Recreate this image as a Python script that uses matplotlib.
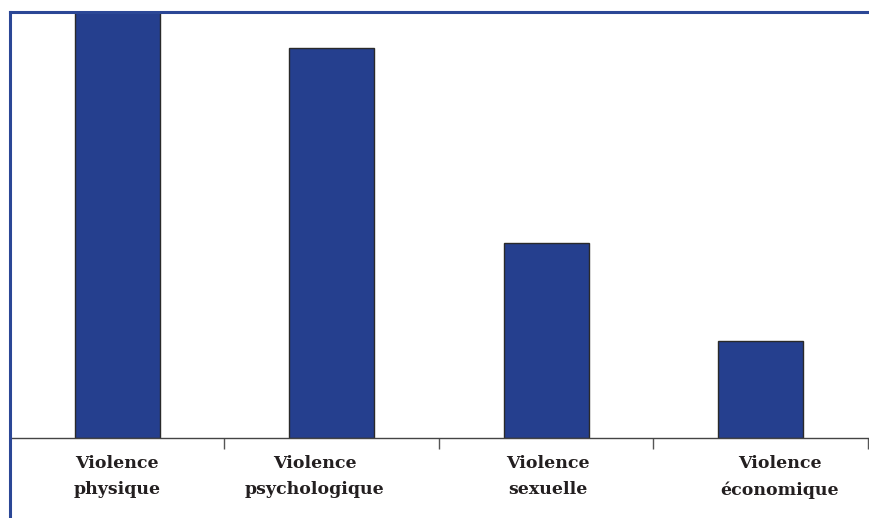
import numpy as np
import matplotlib.pyplot as plt
from matplotlib.lines import Line2D

# categories and values (no y scale shown)
categories = ['Violence\nphysique', 'Violence\npsychologique',
              'Violence\nsexuelle', 'Violence\néconomique']
values = [44, 40, 20, 10]
# the labels in the original sit a little off the bar centres
label_shift = [0.0, -0.08, 0.01, 0.09]

W, H = 870, 518
fig = plt.figure(figsize=(W / 100, H / 100), dpi=100)
ax = fig.add_axes([10 / W, (H - 438) / H, (868 - 10) / W, (438 - 12) / H])

x = np.arange(len(categories))
ax.bar(x, values, width=0.395, color='#253f8e', edgecolor='#2a2a2a', linewidth=1.0)

ax.set_xlim(-0.5, len(categories) - 0.5)
ax.set_ylim(0, 43.7)

for side in ['top', 'right', 'left']:
    ax.spines[side].set_visible(False)
ax.spines['bottom'].set_color('#444444')
ax.spines['bottom'].set_linewidth(1.0)

ax.set_yticks([])
ax.set_xticks(x + np.array(label_shift))
ax.set_xticklabels(categories, fontsize=12.5, fontweight='bold',
                   family='DejaVu Serif', color='#231f20', linespacing=1.75)
ax.tick_params(axis='x', which='major', length=0, pad=12)
ax.set_xticks(np.arange(len(categories) + 1) - 0.5, minor=True)
ax.tick_params(axis='x', which='minor', length=8, width=1.0, color='#555555')

# frame lines left and top
fig.add_artist(Line2D([10 / W, 10 / W], [0, (H - 12) / H], color='#2b4796', lw=2.2))
fig.add_artist(Line2D([10 / W, 1], [(H - 12) / H, (H - 12) / H], color='#2b4796', lw=2.2))

fig.savefig('out.png', dpi=100)
